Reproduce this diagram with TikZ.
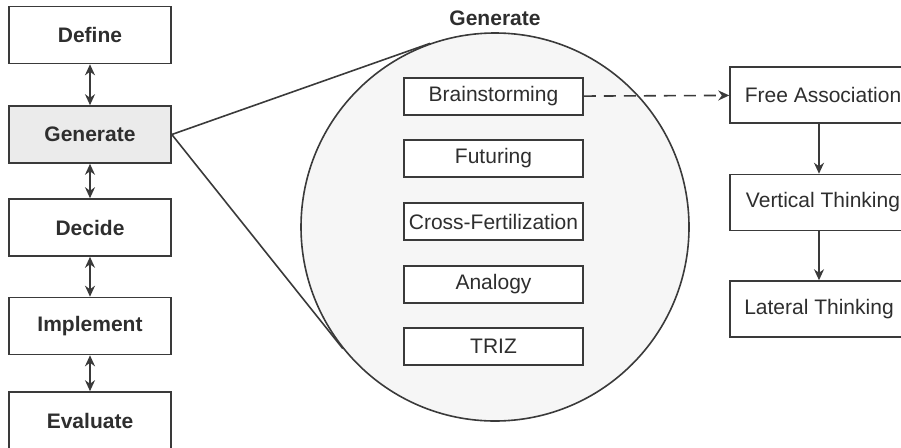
\documentclass[tikz,border=0pt]{standalone}
\usepackage{fontspec}
\setmainfont{Liberation Sans}
\usetikzlibrary{arrows.meta,calc}
\definecolor{ink}{HTML}{3A3A3A}
\definecolor{txt}{HTML}{2E2E2E}
\definecolor{genfill}{HTML}{EBEBEB}
\definecolor{circfill}{HTML}{F6F6F6}
\tikzset{
  stage/.style={draw=ink,line width=1.6pt,minimum width=162pt,minimum height=57pt,inner sep=0pt,text=txt,font=\fontsize{21}{25}\selectfont\bfseries},
  tech/.style={draw=ink,line width=1.5pt,fill=white,minimum width=179pt,minimum height=37pt,inner sep=0pt,text=txt,font=\fontsize{21}{25}\selectfont},
  think/.style={draw=ink,line width=1.5pt,minimum width=178pt,minimum height=56pt,inner sep=0pt,text=txt,font=\fontsize{21}{25}\selectfont},
  tip/.style={-{Stealth[length=11pt,width=10pt]}},
  dtip/.style={{Stealth[length=11pt,width=10pt]}-{Stealth[length=11pt,width=10pt]}},
  conn/.style={draw=ink,line width=1.6pt}
}
\begin{document}
\begin{tikzpicture}[x=1pt,y=-1pt]
\useasboundingbox (0,0) rectangle (901,447);
% circle
\node[circle,draw=ink,line width=1.6pt,fill=circfill,minimum size=388pt,inner sep=0pt] (circ) at (495,227) {};
\node[text=txt,font=\fontsize{21}{25}\selectfont\bfseries] (gtitle) at (495,18) {Generate};
% left column
\node[stage] (def) at (90,35) {Define};
\node[stage,fill=genfill] (gen) at (90,134.5) {Generate};
\node[stage] (dec) at (90,227.5) {Decide};
\node[stage] (imp) at (90,326) {Implement};
\node[stage] (eva) at (90,420.5) {Evaluate};
\draw[conn,dtip] (def) -- (gen);
\draw[conn,dtip] (gen) -- (dec);
\draw[conn,dtip] (dec) -- (imp);
\draw[conn,dtip] (imp) -- (eva);
% tangent lines
\coordinate (t1) at (tangent cs:node=circ,point={(gen.east)},solution=1);
\coordinate (t2) at (tangent cs:node=circ,point={(gen.east)},solution=2);
\draw[conn] (gen.east) -- (t1);
\draw[conn] (gen.east) -- (t2);
% techniques
\node[tech] (bra) at (493.5,96.5) {Brainstorming};
\node[tech] (fut) at (493.5,158.5) {Futuring};
\node[tech] (cro) at (493.5,221.5) {Cross-Fertilization};
\node[tech] (ana) at (493.5,284.5) {Analogy};
\node[tech] (tri) at (493.5,346.5) {TRIZ};
% right column
\node[think] (fre) at (819,95) {\hspace*{8pt}Free Association};
\node[think] (ver) at (819,202.5) {\hspace*{8pt}Vertical Thinking};
\node[think] (lat) at (819,309) {Lateral Thinking};
\draw[conn,dashed,dash pattern=on 12pt off 8pt,tip] (bra) -- (fre);
\draw[conn,tip] (fre) -- (ver);
\draw[conn,tip] (ver) -- (lat);
\end{tikzpicture}
\end{document}
